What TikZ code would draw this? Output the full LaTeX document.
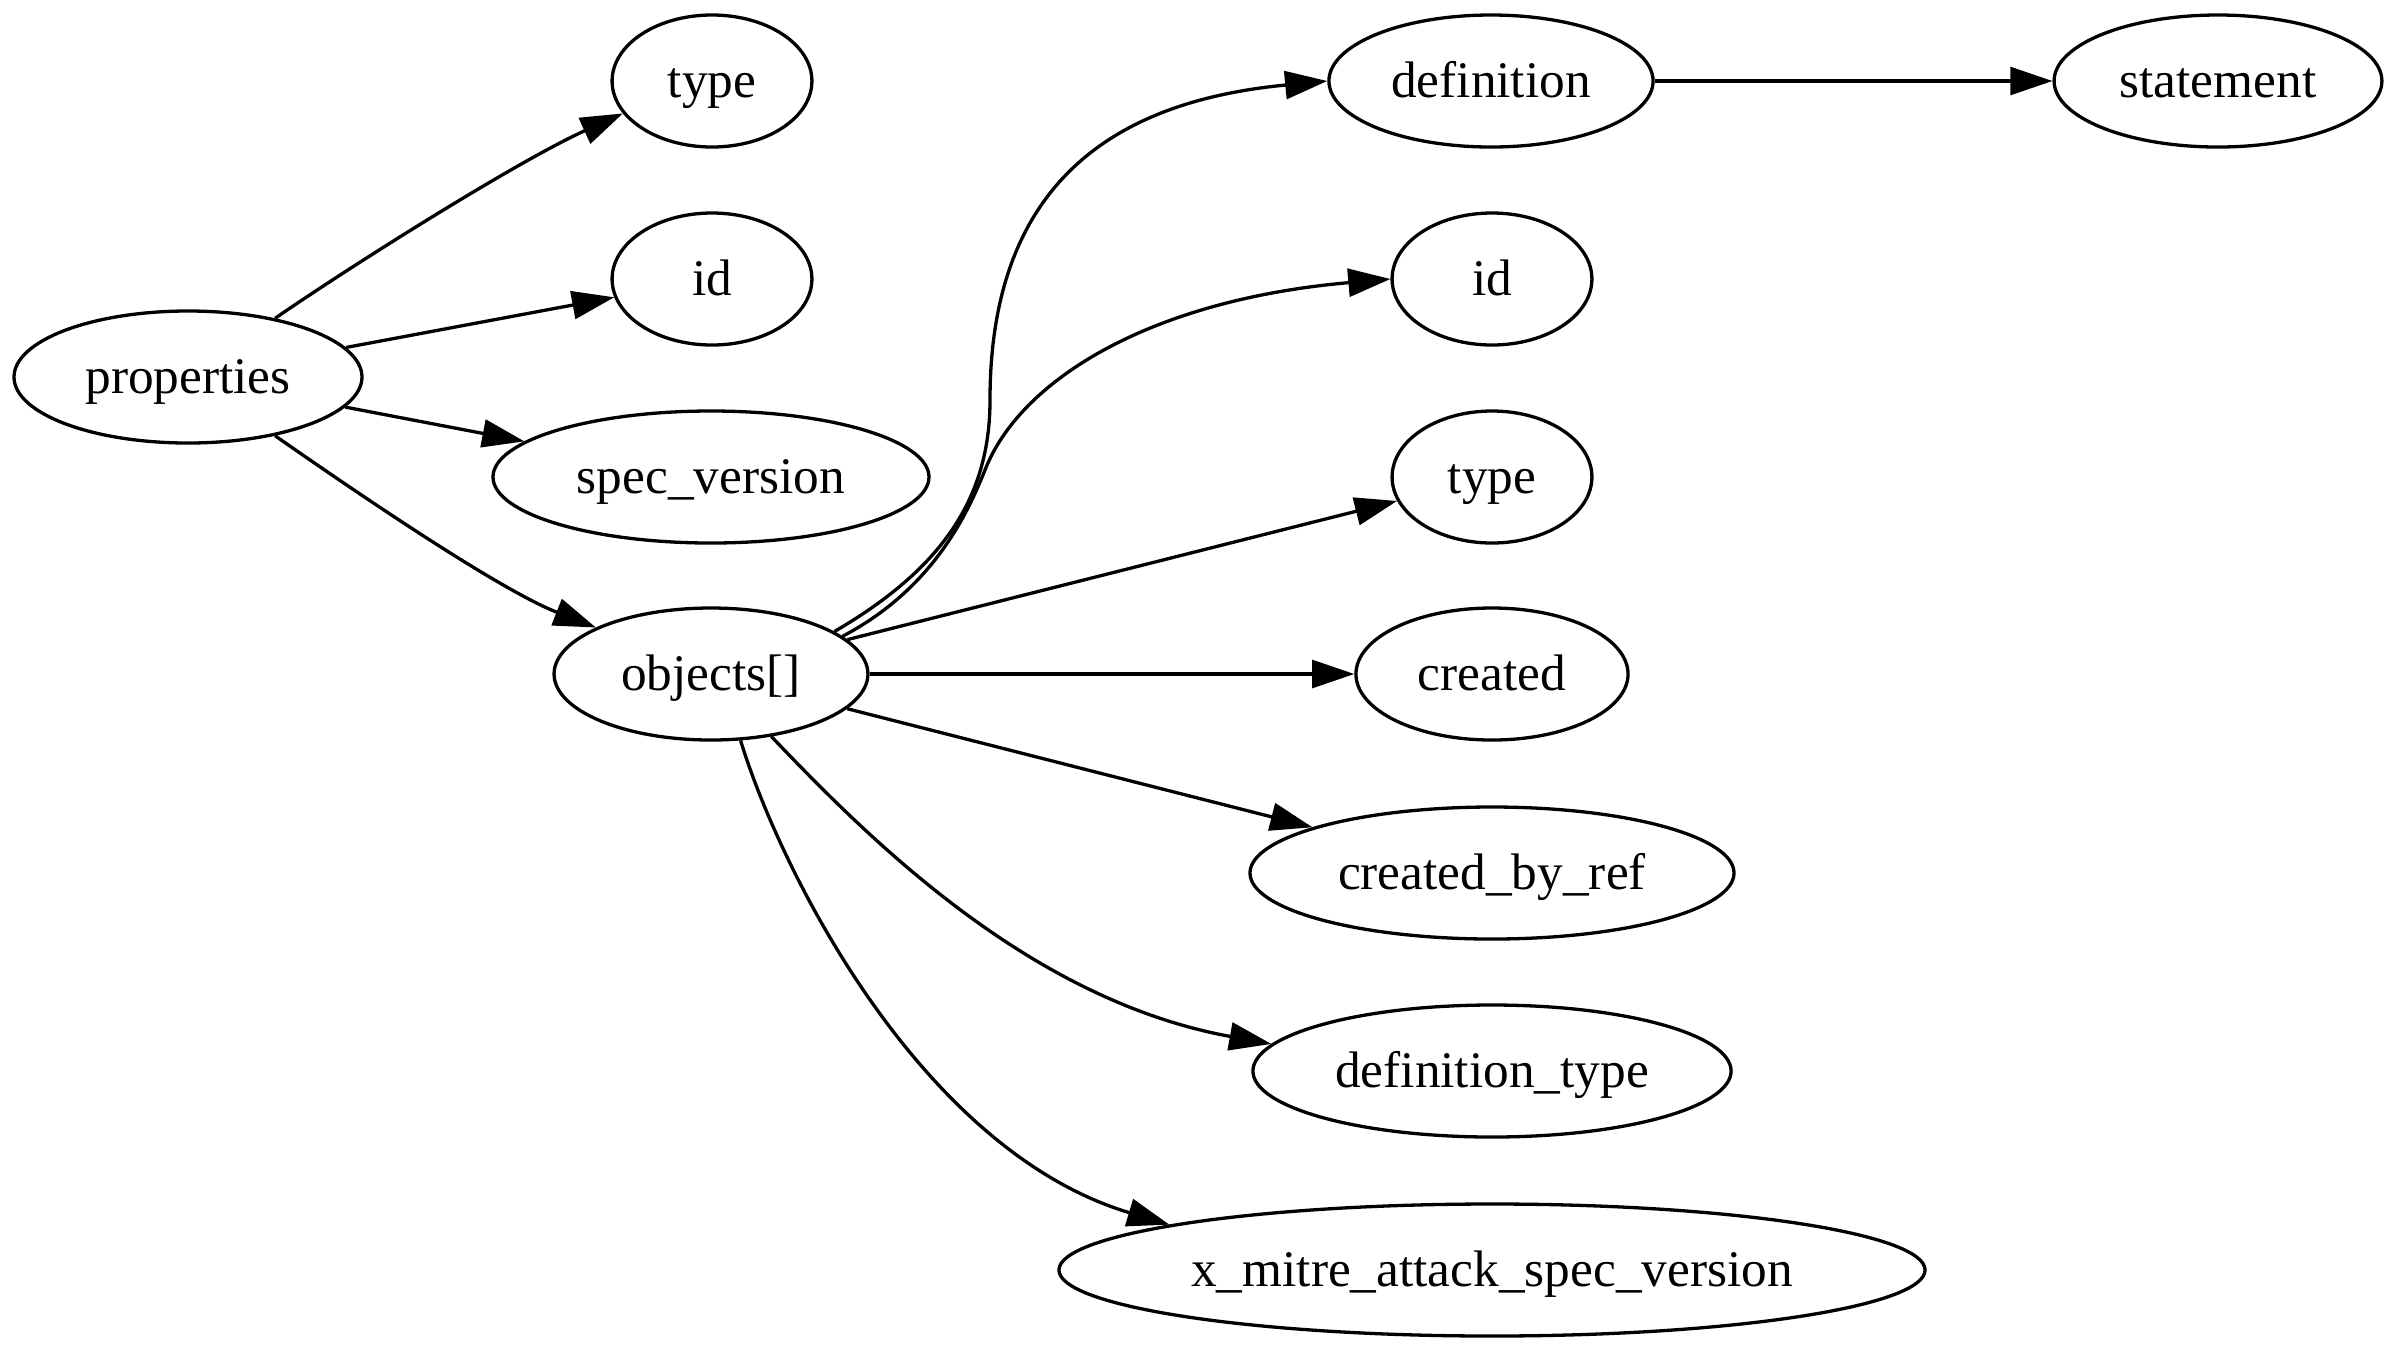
\documentclass[tikz,border=0pt]{standalone}
\usepackage{fontspec}
\setmainfont{Liberation Serif}
\usetikzlibrary{arrows.meta,shapes.geometric}

\begin{document}
\begin{tikzpicture}[
  x=0.2727pt, y=-0.2727pt,
  field/.style={ellipse, draw, line width=0.9pt, inner sep=0pt, minimum height=36pt,
    text height=12pt, text depth=3.2pt, font=\fontsize{14pt}{16pt}\selectfont},
  ar/.style={-{Triangle[length=11.5pt,width=7.6pt]}, line width=0.9pt},
]
\useasboundingbox (0,0) rectangle (2400,1350);
\node[field, minimum width=94.9pt] (props) at (188,377) {properties};
\node[field, minimum width=54.5pt] (type1) at (712,81) {type};
\node[field, minimum width=54.5pt] (id1) at (712,279) {id};
\node[field, minimum width=118.9pt] (specver) at (711,477) {spec\_version};
\node[field, minimum width=85.6pt] (objects) at (711,674) {objects[]};
\node[field, minimum width=88.4pt] (defn) at (1491,81) {definition};
\node[field, minimum width=89.4pt] (stmt) at (2218,81) {statement};
\node[field, minimum width=54.5pt] (id2) at (1492,279) {id};
\node[field, minimum width=54.5pt] (type2) at (1492,477) {type};
\node[field, minimum width=74.2pt] (created) at (1492,674) {created};
\node[field, minimum width=132pt] (createdby) at (1492,873) {created\_by\_ref};
\node[field, minimum width=130.4pt] (deftype) at (1492,1071) {definition\_type};
\node[field, minimum width=236.2pt] (xmitre) at (1492,1270) {x\_mitre\_attack\_spec\_version};

\draw[ar] (props.34) .. controls (360,260) and (520,160) .. (type1.200);
\draw[ar] (props) -- (id1);
\draw[ar] (props) -- (specver);
\draw[ar] (props.-34) .. controls (360,495) and (500,590) .. (objects.158);
\draw[ar] (objects.19) .. controls (940,570) and (990,500) .. (990,400)
  .. controls (990,170) and (1130,100) .. (defn.west);
\draw[ar] (objects.16) .. controls (930,590) and (965,520) .. (985,470)
  .. controls (1020,380) and (1150,300) .. (id2.west);
\draw[ar] (objects) -- (type2);
\draw[ar] (objects) -- (created);
\draw[ar] (objects) -- (createdby);
\draw[ar] (objects.-46) .. controls (870,840) and (1030,1000) .. (deftype.173);
\draw[ar] (objects.-66) .. controls (780,870) and (920,1150) .. (xmitre.172);
\draw[ar] (defn) -- (stmt);
\end{tikzpicture}
\end{document}
